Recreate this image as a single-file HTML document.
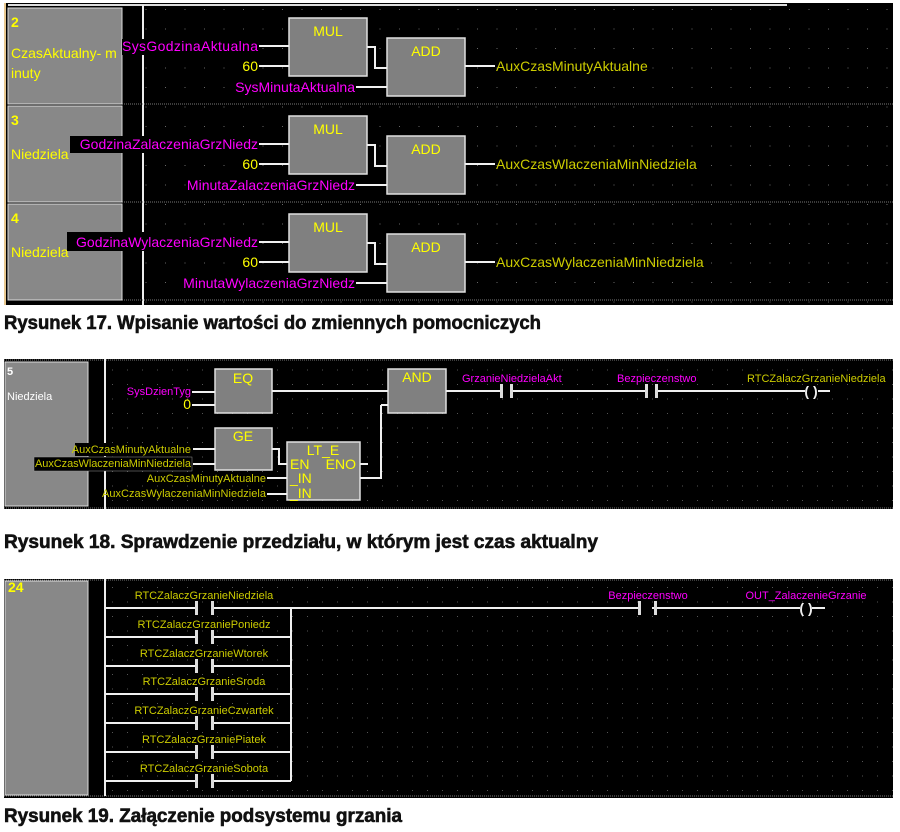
<!DOCTYPE html>
<html><head><meta charset="utf-8"><style>
html,body{margin:0;padding:0;background:#fff;}
svg{display:block;}
text{font-family:"Liberation Sans",sans-serif;}
.m{fill:#ff00ff;font-size:14px;}
.y{fill:#ffff00;font-size:14px;}
.o{fill:#cccc00;font-size:14px;}
.s{fill:#cccc00;font-size:11px;}
.sm{fill:#ff00ff;font-size:11px;}
.bx{fill:#808080;stroke:#e0e0e0;stroke-width:1.5;}
.w{stroke:#f0f0f0;stroke-width:2;fill:none;}
.cap{font-weight:bold;font-size:19px;fill:#111;stroke:#111;stroke-width:0.6;}
</style></head><body>
<svg width="900" height="832" xmlns="http://www.w3.org/2000/svg">
<defs>
<pattern id="d1" x="0" y="0" width="19.5" height="19.5" patternUnits="userSpaceOnUse"><rect x="9" y="9" width="1" height="1" fill="#666"/></pattern>
<pattern id="d2" x="0" y="0" width="15" height="14.5" patternUnits="userSpaceOnUse"><rect x="7" y="7" width="1" height="1" fill="#555"/></pattern>
</defs>
<!-- PANEL 1 -->
<rect x="4" y="3" width="889" height="302" fill="#000"/>
<rect x="143" y="8" width="750" height="296" fill="url(#d1)"/>
<rect x="4" y="3" width="2" height="302" fill="#e8c890"/>
<line x1="8" y1="5" x2="787" y2="5" stroke="#ddd" stroke-width="2"/>
<line x1="143" y1="5" x2="143" y2="305" stroke="#eee" stroke-width="2"/>
<line x1="122" y1="104" x2="893" y2="104" stroke="#777" stroke-dasharray="1 1"/>
<line x1="122" y1="202" x2="893" y2="202" stroke="#777" stroke-dasharray="1 1"/>
<line x1="122" y1="300" x2="893" y2="300" stroke="#777" stroke-dasharray="1 1"/>
<rect x="8" y="8" width="114" height="96" fill="#888" stroke="#ddd"/>
<rect x="8" y="106" width="114" height="96" fill="#888" stroke="#ddd"/>
<rect x="8" y="204" width="114" height="96" fill="#888" stroke="#ddd"/>
<text x="11" y="27" class="y" font-weight="bold" font-size="15">2</text>
<text x="11" y="58" class="y">CzasAktualny- m</text>
<text x="11" y="78" class="y">inuty</text>
<text x="11" y="125" class="y" font-weight="bold" font-size="15">3</text>
<text x="11" y="159" class="y">Niedziela</text>
<text x="11" y="223" class="y" font-weight="bold" font-size="15">4</text>
<text x="11" y="257" class="y">Niedziela</text>
<!-- row 1 -->
<g>
<rect x="289" y="18" width="78" height="58" class="bx"/>
<rect x="387" y="38" width="78" height="58" class="bx"/>
<text x="328" y="36" class="y" text-anchor="middle" font-size="16">MUL</text>
<text x="426" y="56" class="y" text-anchor="middle" font-size="16">ADD</text>
<path class="w" d="M259 46H289M259 66H289M356 87H387M367 47H375V68H387M465 66H495"/>
<rect x="122" y="39" width="137" height="16" fill="#000"/>
<text x="258" y="51" class="m" text-anchor="end" textLength="136">SysGodzinaAktualna</text>
<text x="258" y="71" class="y" text-anchor="end">60</text>
<text x="355" y="92" class="m" text-anchor="end">SysMinutaAktualna</text>
<text x="496" y="71" class="o">AuxCzasMinutyAktualne</text>
</g>
<g transform="translate(0,98)">
<rect x="289" y="18" width="78" height="58" class="bx"/>
<rect x="387" y="38" width="78" height="58" class="bx"/>
<text x="328" y="36" class="y" text-anchor="middle" font-size="16">MUL</text>
<text x="426" y="56" class="y" text-anchor="middle" font-size="16">ADD</text>
<path class="w" d="M259 46H289M259 66H289M356 87H387M367 47H375V68H387M465 66H495"/>
<rect x="70" y="38" width="189" height="17" fill="#000"/>
<text x="258" y="51" class="m" text-anchor="end">GodzinaZalaczeniaGrzNiedz</text>
<text x="258" y="71" class="y" text-anchor="end">60</text>
<text x="355" y="92" class="m" text-anchor="end">MinutaZalaczeniaGrzNiedz</text>
<text x="496" y="71" class="o">AuxCzasWlaczeniaMinNiedziela</text>
</g>
<g transform="translate(0,196)">
<rect x="289" y="18" width="78" height="58" class="bx"/>
<rect x="387" y="38" width="78" height="58" class="bx"/>
<text x="328" y="36" class="y" text-anchor="middle" font-size="16">MUL</text>
<text x="426" y="56" class="y" text-anchor="middle" font-size="16">ADD</text>
<path class="w" d="M259 46H289M259 66H289M356 87H387M367 47H375V68H387M465 66H495"/>
<rect x="67" y="36" width="192" height="19" fill="#000"/>
<text x="258" y="51" class="m" text-anchor="end">GodzinaWylaczeniaGrzNiedz</text>
<text x="258" y="71" class="y" text-anchor="end">60</text>
<text x="355" y="92" class="m" text-anchor="end">MinutaWylaczeniaGrzNiedz</text>
<text x="496" y="71" class="o">AuxCzasWylaczeniaMinNiedziela</text>
</g>
<text x="4" y="329" class="cap" textLength="537" lengthAdjust="spacingAndGlyphs">Rysunek 17. Wpisanie wartości do zmiennych pomocniczych</text>

<!-- PANEL 2 -->
<rect x="4" y="359" width="889" height="150" fill="#000"/>
<rect x="106" y="362" width="787" height="145" fill="url(#d2)"/>
<line x1="4" y1="360" x2="893" y2="360" stroke="#777" stroke-dasharray="1 1"/>
<line x1="4" y1="508" x2="893" y2="508" stroke="#777" stroke-dasharray="1 1"/>
<rect x="5" y="362" width="83" height="144" fill="#888" stroke="#ddd"/>
<line x1="105" y1="359" x2="105" y2="509" stroke="#eee" stroke-width="2"/>
<text x="7" y="375" fill="#fff" font-size="11" font-weight="bold">5</text>
<text x="7" y="400" fill="#fff" font-size="11">Niedziela</text>
<rect x="215" y="369" width="57" height="44" class="bx"/>
<rect x="388" y="369" width="58" height="44" class="bx"/>
<rect x="215" y="428" width="57" height="42" class="bx"/>
<rect x="287" y="442" width="73" height="58" class="bx"/>
<text x="243" y="383" class="y" font-size="12" text-anchor="middle">EQ</text>
<text x="417" y="382" class="y" font-size="12" text-anchor="middle">AND</text>
<text x="243" y="441" class="y" font-size="12" text-anchor="middle">GE</text>
<text x="323" y="455" class="y" font-size="12" text-anchor="middle">LT_E</text>
<text x="290" y="469" class="y" font-size="12">EN</text>
<text x="356" y="469" class="y" font-size="12" text-anchor="end">ENO</text>
<text x="290" y="483" class="y" font-size="12">_IN</text>
<text x="290" y="498" class="y" font-size="12">_IN</text>
<path class="w" d="M192 392H215M192 405H215M272 391H388M381 405H388M381 405V478H360M360 464H368M272 449H279V464H287M193 449H215M193 464H215M267 478H287M267 494H287M446 391H500M513 391H645M658 391H805M818 391H830"/>
<text x="191" y="395" class="sm" text-anchor="end">SysDzienTyg</text>
<text x="191" y="409" class="y" font-size="11" text-anchor="end">0</text>
<rect x="75" y="443" width="117" height="13" fill="#000"/>
<text x="191" y="453" class="s" text-anchor="end">AuxCzasMinutyAktualne</text>
<rect x="34" y="457" width="158" height="14" fill="#000" stroke="#999" stroke-width="0.5"/>
<text x="191" y="467" class="s" text-anchor="end" textLength="156">AuxCzasWlaczeniaMinNiedziela</text>
<text x="266" y="482" class="s" text-anchor="end">AuxCzasMinutyAktualne</text>
<text x="266" y="497" class="s" text-anchor="end" textLength="164">AuxCzasWylaczeniaMinNiedziela</text>
<g fill="#ddd"><rect x="500" y="384" width="3" height="14"/><rect x="510" y="384" width="3" height="14"/><rect x="645" y="384" width="3" height="14"/><rect x="655" y="384" width="3" height="14"/></g>
<text x="811" y="396" fill="#eee" font-size="14" text-anchor="middle" font-weight="bold">( )</text>
<text x="462" y="382" class="sm">GrzanieNiedzielaAkt</text>
<text x="617" y="382" class="sm">Bezpieczenstwo</text>
<text x="747" y="382" class="s">RTCZalaczGrzanieNiedziela</text>
<text x="4" y="548" class="cap" textLength="594" lengthAdjust="spacingAndGlyphs">Rysunek 18. Sprawdzenie przedziału, w którym jest czas aktualny</text>

<!-- PANEL 3 -->
<rect x="4" y="579" width="889" height="219" fill="#000"/>
<rect x="106" y="582" width="787" height="213" fill="url(#d2)"/>
<line x1="4" y1="580" x2="893" y2="580" stroke="#777" stroke-dasharray="1 1"/>
<line x1="4" y1="796" x2="893" y2="796" stroke="#777" stroke-dasharray="1 1"/>
<rect x="5" y="581" width="83" height="214" fill="#888" stroke="#ddd"/>
<text x="8" y="592" class="y" font-size="10" font-weight="bold">24</text>
<line x1="105" y1="579" x2="105" y2="796" stroke="#eee" stroke-width="2"/>
<path class="w" d="M105 608H197M213 608H639M652 608H800M812 608H825M291 608V781M105 637H197M213 637H291M105 666H197M213 666H291M105 694H197M213 694H291M105 723H197M213 723H291M105 752H197M213 752H291M105 781H197M213 781H291"/>
<g fill="#ddd">
<rect x="195" y="601" width="3" height="14"/><rect x="211" y="601" width="3" height="14"/>
<rect x="195" y="630" width="3" height="14"/><rect x="211" y="630" width="3" height="14"/>
<rect x="195" y="659" width="3" height="14"/><rect x="211" y="659" width="3" height="14"/>
<rect x="195" y="687" width="3" height="14"/><rect x="211" y="687" width="3" height="14"/>
<rect x="195" y="716" width="3" height="14"/><rect x="211" y="716" width="3" height="14"/>
<rect x="195" y="745" width="3" height="14"/><rect x="211" y="745" width="3" height="14"/>
<rect x="195" y="774" width="3" height="14"/><rect x="211" y="774" width="3" height="14"/>
<rect x="638" y="601" width="3" height="14"/><rect x="654" y="601" width="3" height="14"/>
</g>
<text x="806" y="613" fill="#eee" font-size="14" text-anchor="middle" font-weight="bold">( )</text>
<g class="s" text-anchor="middle">
<text x="204" y="599">RTCZalaczGrzanieNiedziela</text>
<text x="204" y="628">RTCZalaczGrzaniePoniedz</text>
<text x="204" y="657">RTCZalaczGrzanieWtorek</text>
<text x="204" y="685">RTCZalaczGrzanieSroda</text>
<text x="204" y="714">RTCZalaczGrzanieCzwartek</text>
<text x="204" y="743">RTCZalaczGrzaniePiatek</text>
<text x="204" y="772">RTCZalaczGrzanieSobota</text>
</g>
<text x="648" y="599" class="sm" text-anchor="middle">Bezpieczenstwo</text>
<text x="806" y="599" class="sm" text-anchor="middle">OUT_ZalaczenieGrzanie</text>
<text x="4" y="822" class="cap" textLength="398" lengthAdjust="spacingAndGlyphs">Rysunek 19. Załączenie podsystemu grzania</text>
</svg>
</body></html>
